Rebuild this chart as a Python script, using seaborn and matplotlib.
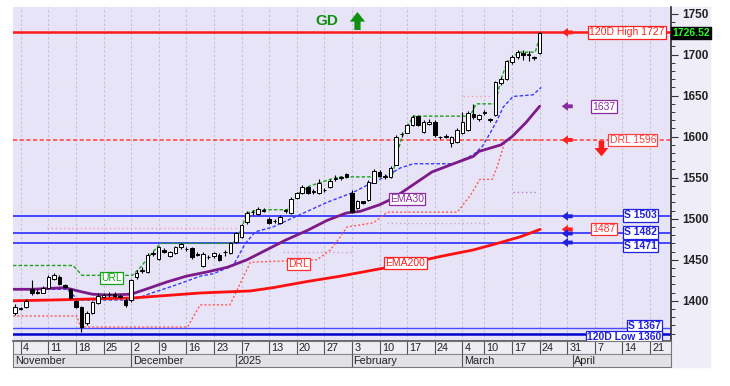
import numpy as np
import pandas as pd
import matplotlib.pyplot as plt
from matplotlib.patches import Rectangle
from matplotlib.ticker import MultipleLocator
import seaborn as sns

# --- daily candles, trading-day index 0 = Nov 1 ... 95 = Mar 24 ---
opens = [1385.5, 1390, 1392, 1414, 1411, 1410, 1416, 1426, 1429, 1419,
         1414, 1400, 1393, 1373, 1385, 1397, 1405, 1408, 1408, 1405,
         1401, 1401, 1429, 1436, 1435, 1457, 1451, 1462, 1454, 1458,
         1465, 1463, 1464, 1457, 1442, 1453, 1454, 1456, 1459, 1458,
         1472, 1478, 1496, 1508, 1506, 1511, 1500, 1497, 1495, 1510,
         1507, 1525, 1531, 1539, 1533, 1531, 1535, 1539, 1549, 1550,
         1554, 1531, 1513, 1521, 1523, 1544, 1557, 1551, 1551, 1566,
         1603, 1605, 1614, 1625, 1606, 1615, 1618, 1599, 1600, 1592,
         1594, 1605, 1608, 1628, 1621, 1629, 1620, 1627, 1665, 1670,
         1691, 1697, 1702, 1700, 1696, 1702]
closes = [1393, 1391, 1400, 1409, 1410, 1416, 1429, 1431, 1420, 1417,
          1404, 1393, 1368, 1385, 1398, 1406, 1407, 1408.5, 1406, 1405.5,
          1395, 1425, 1434, 1438, 1456, 1458, 1465, 1460, 1459, 1465,
          1469, 1463.5, 1453, 1456, 1457, 1453.5, 1458, 1450, 1460, 1470,
          1482, 1492, 1507, 1508.5, 1512, 1509, 1495, 1497.5, 1502, 1510.5,
          1524, 1531, 1539, 1531, 1533.5, 1544, 1535.5, 1546, 1549.5, 1550.5,
          1551, 1508, 1521, 1519, 1545, 1558, 1552, 1551.5, 1562, 1600,
          1603.5, 1614, 1624, 1614, 1618, 1618, 1602, 1599.5, 1600.5, 1599,
          1608, 1618, 1629, 1624, 1626, 1629.5, 1621, 1666, 1670, 1692,
          1697, 1703, 1700, 1700.5, 1696.5, 1726.52]
highs = [1396, 1392, 1402, 1425, 1414, 1418, 1431, 1434, 1431, 1421,
         1415, 1401, 1394, 1387, 1400, 1409, 1410, 1411, 1411, 1408,
         1403, 1427, 1437, 1441, 1458, 1461, 1467, 1464, 1461, 1467,
         1471, 1466, 1466, 1459, 1459, 1456, 1460, 1458, 1462, 1472,
         1484, 1494, 1509, 1511, 1514, 1513, 1502, 1500, 1504, 1512,
         1526, 1533, 1541, 1540, 1536, 1548, 1538, 1548, 1553, 1552,
         1556, 1535, 1523, 1522, 1547, 1560, 1559, 1554, 1564, 1602,
         1606, 1616, 1626, 1627, 1620, 1621, 1620, 1601, 1603, 1601,
         1610, 1630, 1631, 1640, 1628, 1632, 1623, 1668, 1673, 1694,
         1699, 1706, 1706, 1704, 1698, 1727]
lows = [1383, 1389, 1391, 1407, 1408, 1409, 1415, 1425, 1419, 1415,
        1402, 1391, 1362, 1371, 1384, 1396, 1403, 1405, 1404, 1403,
        1393, 1399, 1426, 1434, 1434, 1455, 1450, 1458, 1453, 1457,
        1463, 1461, 1451, 1455, 1441, 1451, 1452, 1448, 1455, 1457,
        1470, 1476, 1494, 1505, 1505, 1508, 1493, 1495, 1494, 1507,
        1506, 1524, 1530, 1530, 1530, 1530, 1532, 1537, 1546, 1547,
        1550, 1507, 1512, 1518, 1522, 1543, 1551, 1549, 1550, 1565,
        1600, 1604, 1613, 1613, 1605, 1614, 1600, 1597, 1598, 1588,
        1592, 1603, 1607, 1621, 1619, 1626, 1618, 1625, 1663, 1669,
        1689, 1695, 1694, 1692, 1694, 1701]

# --- indicator lines (x in trading-day index) ---
ema30_x = [-0.4, 3, 9, 12, 14, 17, 21, 24.5, 27.5, 31, 35, 38.5, 42, 45.5, 49,
           53, 56.5, 60, 62.5, 66, 68.5, 72, 75.5, 79, 83, 84, 88, 90, 92.5, 95]
ema30 = [1414, 1414, 1416, 1411, 1408, 1407, 1408, 1416, 1423, 1430, 1435.5,
         1441, 1450, 1462, 1474, 1486, 1498, 1507, 1509, 1517, 1525, 1541,
         1557, 1566, 1576, 1582, 1590, 1600, 1617, 1637]

ema200_x = [-0.4, 6.9, 21.4, 33.5, 42.6, 46.7, 52.9, 58.9, 64.9, 71, 77, 83, 87.9, 91.5, 95.1]
ema200 = [1400, 1401, 1403.5, 1409.5, 1412, 1416, 1423.5, 1430, 1437.5, 1445,
          1454, 1462, 1471, 1478, 1487]

trail_x = [-0.4, 9.4, 11.4, 21.4, 24.5, 28.6, 33.5, 35.9, 39.5, 41.7, 43.5, 46.7,
           51.6, 56.5, 61.2, 63.8, 66.7, 69.8, 72.1, 79.4, 83, 84.6, 86.1, 87.3,
           88.4, 90.2, 93.8, 95.3]
trail = [1414, 1414, 1401, 1401, 1409, 1418, 1430, 1433, 1443, 1470, 1484, 1490,
         1505, 1520, 1532, 1541, 1550, 1562, 1567, 1567, 1578, 1588, 1605, 1620,
         1636, 1649, 1651, 1660]

drl_x = [-0.4, 11.2, 11.8, 31.2, 33.5, 38.9, 42.6, 54.7, 57.1, 58.9, 60.1, 64.9,
         67.4, 80.1, 82.4, 84.2, 86.4, 87.3, 88.8, 95.3]
drl = [1381.5, 1381.5, 1368, 1368, 1395, 1395, 1447, 1450, 1462, 1478, 1490, 1495,
       1508, 1508, 1528, 1548, 1548, 1563, 1596, 1596]

url_x = [-0.4, 10.5, 12.1, 21.2, 22.6, 24.5, 26.3, 39.5, 40.8, 42, 44, 49.3, 51.1,
         53.4, 57.1, 58.9, 68.3, 69.2, 70.1, 72.1, 82.4, 83.5, 87, 87.9, 89.1,
         91.1, 94.2, 95.3]
url = [1443, 1443, 1431, 1431, 1440, 1456, 1470, 1470, 1485, 1507, 1511, 1511, 1530,
       1540, 1548, 1551, 1551, 1580, 1600, 1625, 1625, 1640, 1640, 1668, 1690,
       1703, 1703, 1727]

faint_start = [5.8, 48.6, 67.4, 90.2, 81.2]
faint_end = [40.4, 61.2, 86.1, 94.6, 86.1]
faint_level = [1489, 1459, 1495, 1532, 1649]
faint_color = ['#FF9AB4', '#C9A3DC', '#C9A3DC', '#B07CCB', '#FF9AB4']

# --- horizontal levels ---
levels = [1727, 1596, 1503, 1482, 1471, 1367, 1360]

tick_pos = [1, 6, 11, 16, 21, 26, 31, 36, 41, 46, 51, 56, 61, 66, 71, 76,
            81, 85, 90, 95, 100, 105, 110, 115]
tick_labels = ['4', '11', '18', '25', '2', '9', '16', '23', '7', '13', '20', '27',
               '3', '10', '17', '24', '4', '10', '17', '24', '31', '7', '14', '21']
month_pos = [-0.3, 21, 40, 61, 81, 101]
month_labels = ['November', 'December', '2025', 'February', 'March', 'April']

sns.set_theme(style='white')
plt.rcParams['font.family'] = ['Liberation Sans', 'DejaVu Sans']

W, H = 730, 386
fig = plt.figure(figsize=(W / 100, H / 100), dpi=100)


def box(l, t, r, b):
    return [l / W, 1 - b / H, (r - l) / W, (b - t) / H]


ax = fig.add_axes(box(13, 7, 671, 341))
dax = fig.add_axes(box(13, 341, 671, 367), sharex=ax)
fig.add_artist(Rectangle((671 / W, 1 - 367 / H), 39 / W, 360 / H,
                         transform=fig.transFigure, color='#EFEDF7', zorder=-1))

ax.set_facecolor('#E8E4F7')
ax.set_xlim(-0.4, 118.8)
ax.set_ylim(1351, 1758)

# vertical grid
for t in tick_pos:
    ax.axvline(t, color='#C2C0D2', lw=0.8, ls=(0, (2, 2)), zorder=1)

# horizontal levels
ax.axhline(levels[0], color='#FF1A1A', lw=1.8, zorder=2)
ax.axhline(levels[1], color='#FF4A4A', lw=1.2, ls=(0, (2.5, 1.5)), zorder=2)
for lv in levels[2:5]:
    ax.axhline(lv, color='#3B3BFF', lw=1.3, zorder=2)
ax.axhline(levels[5], color='#4A4AFF', lw=1.0, zorder=2)
ax.axhline(levels[6], color='#0000D0', lw=1.8, zorder=2)

for x0, x1, lv, c in zip(faint_start, faint_end, faint_level, faint_color):
    ax.hlines(lv, x0, x1, color=c, lw=1.0, ls=(0, (1, 2)), zorder=2)

ax.plot(drl_x, drl, color='#FF5A5A', lw=1.0, ls=(0, (1.5, 1.5)), zorder=3)
ax.plot(url_x, url, color='#1AA01A', lw=1.0, ls=(0, (2.5, 1.5)), zorder=3)
ax.plot(trail_x, trail, color='#3A3AFF', lw=1.0, ls=(0, (2.5, 1.5)), zorder=3)
sns.lineplot(x=ema200_x, y=ema200, ax=ax, color='#FF1010', lw=2, zorder=3)
sns.lineplot(x=ema30_x, y=ema30, ax=ax, color='#7D1A8A', lw=2, zorder=3)

# candles
df = pd.DataFrame(dict(o=opens, h=highs, l=lows, c=closes))
df['i'] = np.arange(len(df))
up = df.c >= df.o
ax.vlines(df.i, df.l, df.h, color='black', lw=0.8, zorder=4)
body = (df.c - df.o).abs().clip(lower=0.6)
ax.bar(df.i, body, bottom=df[['o', 'c']].min(axis=1), width=0.64,
       color=np.where(up, 'white', 'black'), edgecolor='black', linewidth=0.7, zorder=5)


def tag(x, y, s, color, ha='right', bold=False):
    ax.text(x, y, s, color=color, fontsize=7.5, ha=ha, va='center', zorder=8,
            fontweight='bold' if bold else 'normal',
            bbox=dict(boxstyle='square,pad=0.12', fc='white', ec=color, lw=0.9))


def arrow(x0, y0, x1, y1, color, hw=0.6, hl=0.5, tw=0.3):
    ax.annotate('', xy=(x1, y1), xytext=(x0, y0), zorder=8,
                arrowprops=dict(arrowstyle=f'simple,head_width={hw},head_length={hl},tail_width={tw}',
                                color=color, mutation_scale=10, lw=0,
                                shrinkA=0, shrinkB=0))


tag(117.6, 1727, '120D High 1727', '#FF2020')
tag(104.6, 1636.5, '1637', '#8A2BA0', ha='left')
tag(116.1, 1596, 'DRL 1596', '#FF4040')
tag(116.3, 1504, 'S 1503', '#2020E0', bold=True)
tag(104.6, 1487.5, '1487', '#FF3030', ha='left')
tag(116.3, 1483.5, 'S 1482', '#2020E0', bold=True)
tag(116.3, 1467, 'S 1471', '#2020E0', bold=True)
tag(117.0, 1369, 'S 1367', '#2020E0', bold=True)
tag(117.0, 1356, '120D Low 1360', '#2020E0', bold=True)

tag(17.4, 1428, 'URL', '#14A014', ha='center')
tag(51.3, 1445, 'DRL', '#FF3030', ha='center')
tag(71.0, 1524, 'EMA30', '#8A2BA0', ha='center')
tag(70.7, 1446, 'EMA200', '#FF2020', ha='center')

for lv, c in [(1727, '#FF2020'), (1637, '#8A2BA0'), (1596, '#FF2020'), (1503, '#2020E0'),
              (1487, '#FF2020'), (1482, '#2020E0'), (1471, '#2020E0')]:
    arrow(101.0, lv, 99.0, lv, c, hw=0.65, hl=0.45, tw=0.28)

arrow(106.2, 1595, 106.2, 1576, '#FF1A1A', hw=1.0, hl=0.6, tw=0.4)
arrow(62, 1730, 62, 1752, '#109010', hw=1.1, hl=0.7, tw=0.45)
ax.text(56.4, 1741, 'GD', color='#109010', fontsize=11, fontweight='bold',
        ha='center', va='center')

# right price axis
ax.yaxis.tick_right()
ax.set_yticks(range(1400, 1751, 50))
ax.yaxis.set_minor_locator(MultipleLocator(10))
ax.tick_params(axis='y', which='major', length=5, width=0.8, color='#333333',
               labelsize=8.5, pad=3, labelcolor='#222222', right=True, left=False)
ax.tick_params(axis='y', which='minor', length=3, width=0.7, color='#333333', right=True, left=False)
for lab in ax.get_yticklabels():
    lab.set_fontweight('bold')
ax.tick_params(axis='x', bottom=False, labelbottom=False)
for s in ['left', 'top']:
    ax.spines[s].set_visible(False)
ax.spines['right'].set_color('#333333')
ax.spines['bottom'].set_color('#555555')

ax.text(1.0015, 1726.52, '1726.52', transform=ax.get_yaxis_transform(), color='#22FF22',
        fontsize=7.5, fontweight='bold', ha='left', va='center', zorder=9,
        bbox=dict(boxstyle='square,pad=0.12', fc='black', ec='black'))

# date rows
dax.set_ylim(0, 2)
dax.axhspan(1, 2, color='#EEEDF6')
dax.axhspan(0, 1, color='#E2E2E6')
dax.axhline(1, color='#8A8A8A', lw=0.8)
for t, lab in zip(tick_pos, tick_labels):
    dax.vlines(t, 1, 2, color='#555555', lw=0.8)
    dax.text(t + 0.4, 1.45, lab, fontsize=7.8, ha='left', va='center', color='#222222')
for m, lab in zip(month_pos, month_labels):
    if m > 0:
        dax.vlines(m, 0, 1, color='#555555', lw=0.8)
    dax.text(m + 0.3, 0.45, lab, fontsize=7.8, ha='left', va='center', color='#222222')
dax.tick_params(bottom=False, left=False, labelbottom=False, labelleft=False)
for s in dax.spines.values():
    s.set_color('#777777')
    s.set_linewidth(0.8)

fig.savefig('out.png', dpi=100)
